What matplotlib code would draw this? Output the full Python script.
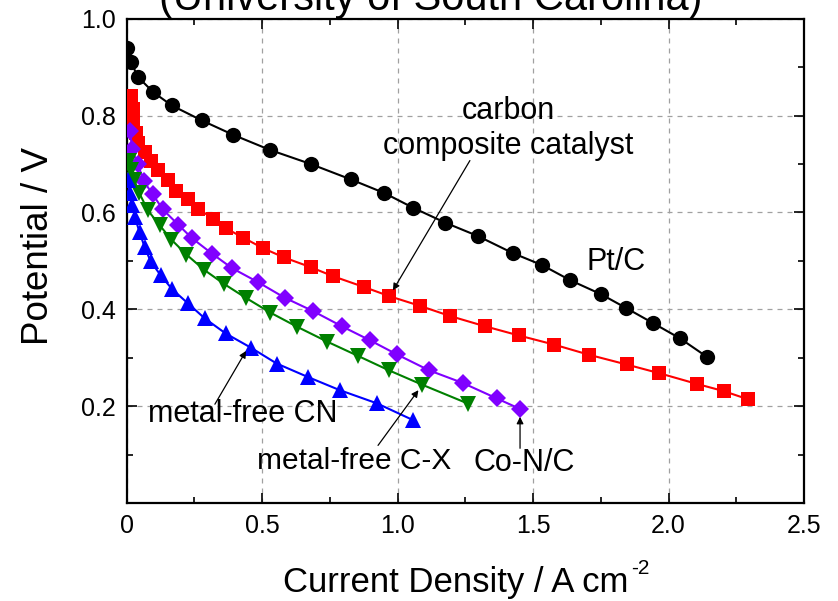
import numpy as np
import matplotlib
matplotlib.use("Agg")
import matplotlib.pyplot as plt
from matplotlib.ticker import MultipleLocator, FixedLocator, FixedFormatter

plt.rcParams['font.family'] = ['Liberation Sans', 'DejaVu Sans']
plt.rcParams['mathtext.default'] = 'regular'

# ---- data (current density A/cm2, potential V) ----
ptc_x = [0.003, 0.016, 0.043, 0.099, 0.166, 0.277, 0.394, 0.529, 0.679, 0.828, 0.951,
         1.056, 1.175, 1.297, 1.425, 1.534, 1.637, 1.751, 1.842, 1.941, 2.042, 2.141]
ptc_y = [0.940, 0.910, 0.879, 0.848, 0.821, 0.790, 0.760, 0.729, 0.700, 0.668, 0.640,
         0.610, 0.579, 0.551, 0.516, 0.491, 0.460, 0.431, 0.403, 0.372, 0.340, 0.302]

ccc_x = [0.018, 0.022, 0.025, 0.035, 0.044, 0.067, 0.091, 0.116, 0.153, 0.183, 0.227,
         0.263, 0.319, 0.367, 0.430, 0.504, 0.581, 0.679, 0.763, 0.876, 0.970, 1.083,
         1.194, 1.322, 1.447, 1.578, 1.707, 1.845, 1.966, 2.104, 2.204, 2.294]
ccc_y = [0.841, 0.814, 0.788, 0.763, 0.744, 0.724, 0.707, 0.687, 0.666, 0.645, 0.628,
         0.608, 0.587, 0.567, 0.548, 0.526, 0.507, 0.487, 0.468, 0.446, 0.427, 0.407,
         0.386, 0.365, 0.346, 0.327, 0.306, 0.286, 0.268, 0.246, 0.231, 0.214]

conc_x = [0.014, 0.020, 0.042, 0.064, 0.097, 0.134, 0.190, 0.241, 0.315, 0.389, 0.485,
          0.583, 0.689, 0.794, 0.898, 0.997, 1.116, 1.240, 1.366, 1.453]
conc_y = [0.767, 0.730, 0.699, 0.664, 0.637, 0.606, 0.575, 0.547, 0.515, 0.485, 0.456,
          0.424, 0.396, 0.365, 0.336, 0.307, 0.274, 0.248, 0.216, 0.194]

cx_x = [0.009, 0.018, 0.029, 0.046, 0.079, 0.123, 0.165, 0.221, 0.285, 0.358, 0.439,
        0.531, 0.629, 0.741, 0.853, 0.968, 1.092, 1.261]
cx_y = [0.707, 0.687, 0.666, 0.641, 0.604, 0.573, 0.544, 0.513, 0.482, 0.453, 0.424,
        0.393, 0.364, 0.333, 0.304, 0.274, 0.244, 0.205]

cn_x = [0.005, 0.013, 0.020, 0.031, 0.048, 0.067, 0.089, 0.126, 0.169, 0.227, 0.289,
        0.366, 0.458, 0.554, 0.670, 0.787, 0.923, 1.058]
cn_y = [0.666, 0.641, 0.616, 0.590, 0.559, 0.528, 0.499, 0.470, 0.441, 0.412, 0.381,
        0.350, 0.321, 0.288, 0.260, 0.233, 0.206, 0.171]

x_ticks = [0, 0.5, 1.0, 1.5, 2.0, 2.5]
x_ticklabels = ['0', '0.5', '1.0', '1.5', '2.0', '2.5']
y_ticks = [0.2, 0.4, 0.6, 0.8, 1.0]
y_ticklabels = ['0.2', '0.4', '0.6', '0.8', '1.0']

fig = plt.figure(figsize=(8.38, 6.01), dpi=100)
ax = fig.add_axes([0.151, 0.163, 0.8085, 0.806])

lw = 1.5
ax.plot(ptc_x, ptc_y, '-o', color='black', lw=lw, ms=11, mew=0, zorder=3)
ax.plot(ccc_x, ccc_y, '-s', color='#ff0000', lw=lw, ms=10, mew=0, zorder=3)
ax.plot(conc_x, conc_y, '-D', color='#8000ff', lw=lw, ms=9, mew=0, zorder=3)
ax.plot(cx_x, cx_y, '-v', color='#008000', lw=lw, ms=11, mew=0, zorder=3)
ax.plot(cn_x, cn_y, '-^', color='#0000ff', lw=lw, ms=11, mew=0, zorder=3)

ax.set_xlim(0, 2.5)
ax.set_ylim(0, 1.0)
ax.xaxis.set_major_locator(FixedLocator(x_ticks))
ax.xaxis.set_major_formatter(FixedFormatter(x_ticklabels))
ax.yaxis.set_major_locator(FixedLocator(y_ticks))
ax.yaxis.set_major_formatter(FixedFormatter(y_ticklabels))
ax.xaxis.set_minor_locator(MultipleLocator(0.25))
ax.yaxis.set_minor_locator(MultipleLocator(0.1))
ax.tick_params(which='both', direction='in', top=True, right=True, width=1.2)
ax.tick_params(which='major', length=7, labelsize=18, pad=8)
ax.tick_params(which='minor', length=4)
for s in ax.spines.values():
    s.set_linewidth(1.6)

ax.grid(True, which='major', color='#a0a0a0', linestyle=(0, (4, 4)), linewidth=0.9)

# x label with a hyphen superscript, placed by hand
fig.text(628 / 838, 1 - 592 / 601, 'Current Density / A cm', fontsize=25,
         ha='right', va='baseline')
fig.text(631 / 838, 1 - 574 / 601, '-2', fontsize=15, ha='left', va='baseline')
ax.set_ylabel('Potential / V', fontsize=26.5)
ax.yaxis.set_label_coords(-0.104, 0.53)

fig.text(0.514, 0.983, '(University of South Carolina)', fontsize=30,
         ha='center', va='baseline')

# ---- labels and arrows ----
fs = 22
ax.text(1.808, 0.497, 'Pt/C', fontsize=fs, ha='center', va='center')
ax.text(1.41, 0.773, 'carbon\ncomposite catalyst', fontsize=fs, ha='center',
        va='center', linespacing=1.2)
ax.text(0.428, 0.183, 'metal-free CN', fontsize=fs, ha='center', va='center')
ax.text(0.839, 0.087, 'metal-free C-X', fontsize=21.5, ha='center', va='center')
ax.text(1.467, 0.082, 'Co-N/C', fontsize=fs, ha='center', va='center')

arr = dict(arrowstyle='-|>', color='black', lw=0.9, mutation_scale=10,
           shrinkA=0, shrinkB=0)
ax.annotate('', xy=(0.983, 0.439), xytext=(1.267, 0.707), arrowprops=arr)
ax.annotate('', xy=(0.441, 0.314), xytext=(0.326, 0.204), arrowprops=arr)
ax.annotate('', xy=(1.077, 0.233), xytext=(0.928, 0.119), arrowprops=arr)
ax.annotate('', xy=(1.452, 0.178), xytext=(1.452, 0.113), arrowprops=arr)

fig.savefig('out.png', dpi=100)
